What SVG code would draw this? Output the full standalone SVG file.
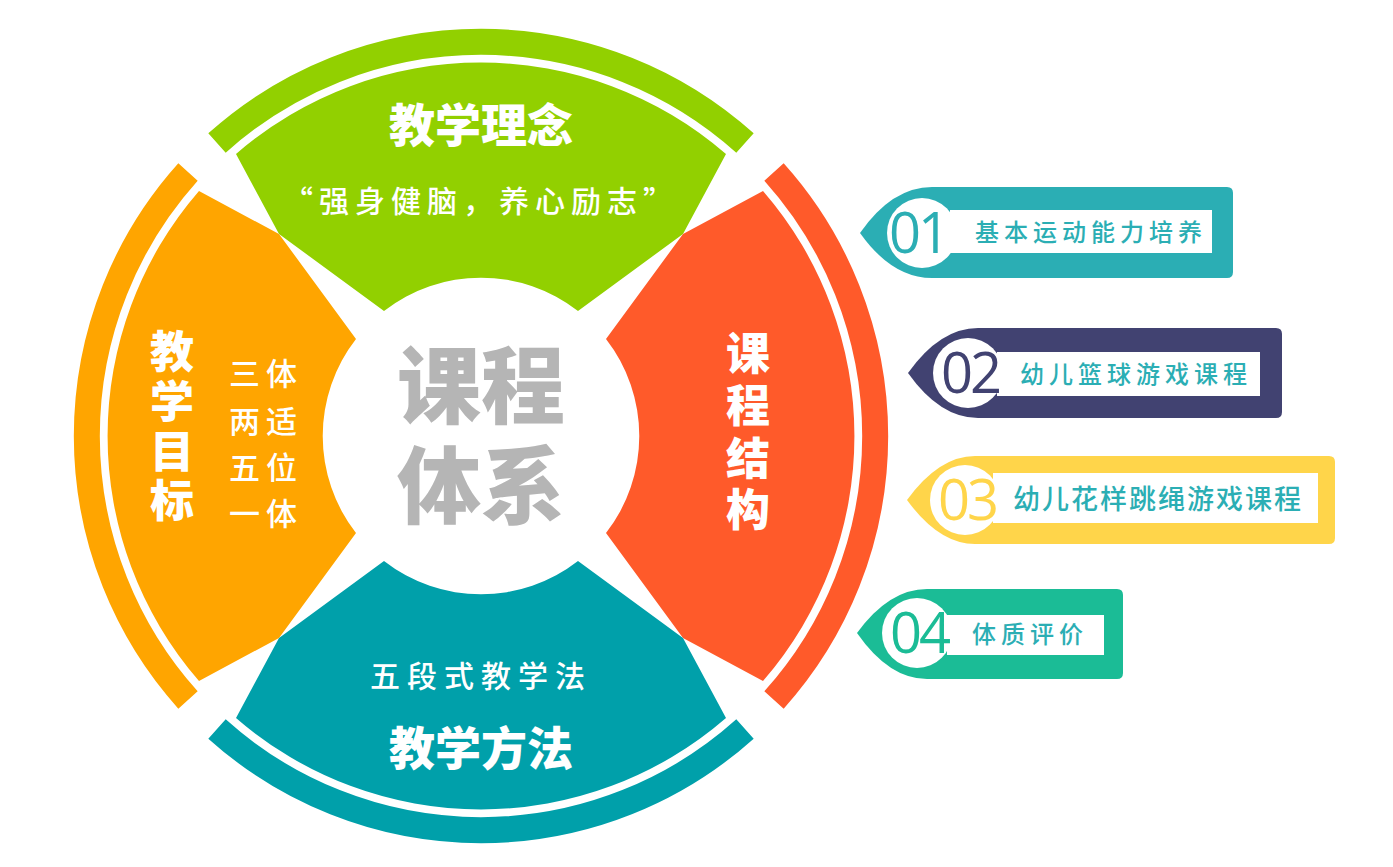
<svg xmlns="http://www.w3.org/2000/svg" width="1393" height="867" viewBox="0 0 1393 867">
<style>
.cj{font-family:"Noto Sans CJK SC","Noto Sans",sans-serif}
.big{font-weight:900;font-size:46px;fill:#fff;text-anchor:middle}
.vert{font-size:44px}
.mid{font-weight:500;font-size:31px;fill:#fff;text-anchor:middle}
.tag{font-weight:500;font-size:24px;fill:#2BAEB4;letter-spacing:5px}
.num{font-family:"Open Sans","Lato",sans-serif;font-size:56px;text-anchor:middle;letter-spacing:-3px}
.band{fill:none;stroke-width:26}
</style>
<rect width="1393" height="867" fill="#fff"/>
<g id="node-linian">
<path d="M217,143 A395,395 0 0 1 745,143" class="band" stroke="#92D000"/>
<path d="M236,154 L279,234 L384,311 A158,158 0 0 1 578,311 L683,234 L726,154 A374,374 0 0 0 236,154 Z" fill="#92D000"/>
<text x="481" y="142" class="cj big">教学理念</text>
<text x="481" y="212" class="cj mid" style="letter-spacing:6px;font-size:30px">“强身健脑，养心励志”</text>
</g>
<g id="node-mubiao">
<path d="M188,700 A395,395 0 0 1 188,172" class="band" stroke="#FFA500"/>
<path d="M199,681 L279,638 L356,533 A158,158 0 0 1 356,339 L279,234 L199,191 A374,374 0 0 0 199,681 Z" fill="#FFA500"/>
<text class="cj big vert"><tspan x="172" y="368">教</tspan><tspan x="172" y="418">学</tspan><tspan x="172" y="468">目</tspan><tspan x="172" y="517">标</tspan></text>
<text class="cj mid" style="letter-spacing:6px"><tspan x="266" y="385">三体</tspan><tspan x="266" y="433">两适</tspan><tspan x="266" y="479">五位</tspan><tspan x="266" y="525">一体</tspan></text>
</g>
<g id="node-jiegou">
<path d="M774,172 A395,395 0 0 1 774,700" class="band" stroke="#FF5A2A"/>
<path d="M763,191 L683,234 L606,339 A158,158 0 0 1 606,533 L683,638 L763,681 A374,374 0 0 0 763,191 Z" fill="#FF5A2A"/>
<text class="cj big vert"><tspan x="748" y="370">课</tspan><tspan x="748" y="422">程</tspan><tspan x="748" y="475">结</tspan><tspan x="748" y="526">构</tspan></text>
</g>
<g id="node-fangfa">
<path d="M745,729 A395,395 0 0 1 217,729" class="band" stroke="#00A0AA"/>
<path d="M726,718 L683,638 L578,561 A158,158 0 0 1 384,561 L279,638 L236,718 A374,374 0 0 0 726,718 Z" fill="#00A0AA"/>
<text x="481" y="687" class="cj mid" style="letter-spacing:7px;font-size:30px">五段式教学法</text>
<text x="481" y="765" class="cj big">教学方法</text>
</g>
<g id="node-center">
<text x="481" y="417" class="cj" style="font-weight:900;font-size:84px;fill:#B5B5B5;text-anchor:middle">课程</text>
<text x="481" y="517" class="cj" style="font-weight:900;font-size:84px;fill:#B5B5B5;text-anchor:middle">体系</text>
</g>
<g id="node-tag1">
<path d="M860,233 Q892,187 932,187 H1227 Q1233,187 1233,193 V272 Q1233,278 1227,278 H932 Q892,278 860,233 Z" fill="#2BAEB4"/>
<circle cx="922" cy="233" r="35" fill="#fff"/>
<rect x="950" y="210" width="262" height="43" fill="#fff"/>
<text x="918" y="253" class="num" fill="#2BAEB4">01</text>
<text x="975" y="241" class="cj tag">基本运动能力培养</text>
</g>
<g id="node-tag2">
<path d="M908,373 Q940,328 978,328 H1276 Q1282,328 1282,334 V412 Q1282,418 1276,418 H978 Q940,418 908,373 Z" fill="#414271"/>
<circle cx="968" cy="373" r="35" fill="#fff"/>
<rect x="997" y="352" width="263" height="44" fill="#fff"/>
<text x="970" y="393" class="num" fill="#414271">02</text>
<text x="1020" y="383" class="cj tag">幼儿篮球游戏课程</text>
</g>
<g id="node-tag3">
<path d="M907,500 Q939,456 975,456 H1329 Q1335,456 1335,462 V538 Q1335,544 1329,544 H975 Q939,544 907,500 Z" fill="#FFD54A"/>
<circle cx="965" cy="500" r="35" fill="#fff"/>
<rect x="993" y="473" width="325" height="50" fill="#fff"/>
<text x="967" y="520" class="num" fill="#FFD54A">03</text>
<text x="1013" y="509" class="cj tag" style="font-size:27px;letter-spacing:2px">幼儿花样跳绳游戏课程</text>
</g>
<g id="node-tag4">
<path d="M857,633 Q889,589 927,589 H1117 Q1123,589 1123,595 V673 Q1123,679 1117,679 H927 Q889,679 857,633 Z" fill="#1BBC96"/>
<circle cx="917" cy="633" r="35" fill="#fff"/>
<rect x="947" y="615" width="157" height="40" fill="#fff"/>
<text x="919" y="653" class="num" fill="#1BBC96">04</text>
<text x="972" y="643" class="cj tag">体质评价</text>
</g>
<g id="connectors"></g>
</svg>
